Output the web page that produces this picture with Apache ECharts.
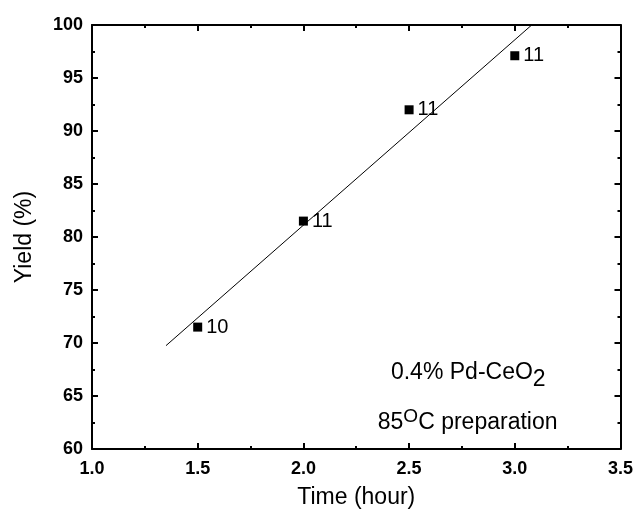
<!DOCTYPE html>
<html><head><meta charset="utf-8">
<script src="https://cdn.jsdelivr.net/npm/echarts@6/dist/echarts.min.js"></script>
<style>html,body{margin:0;padding:0;background:#fff}#c{width:636px;height:514px}</style>
</head><body><div id="c"></div>
<script>
var times = [1.5, 2.0, 2.5, 3.0];
var yields = [71.5, 81.5, 92.0, 97.1];
var pointLabels = ['10', '11', '11', '11'];
var fitX = [1.35, 3.08];
var fitY = [69.75, 100];
var xTitle = 'Time (hour)';
var yTitle = 'Yield (%)';
var FONT = '"Liberation Sans", Arial, sans-serif';

var pts = times.map(function (t, i) { return [t, yields[i], pointLabels[i]]; });
var fit = fitX.map(function (x, i) { return [x, fitY[i]]; });

var axisBase = {
  type: 'value', scale: false,
  axisLine: { show: true, onZero: false, lineStyle: { color: '#000', width: 2 } },
  axisTick: { show: true, inside: true, length: 6, lineStyle: { color: '#000', width: 2 } },
  minorTick: { show: true, splitNumber: 2, length: 3, lineStyle: { color: '#000', width: 2 } },
  splitLine: { show: false }
};
function ax(extra) { return Object.assign({}, JSON.parse(JSON.stringify(axisBase)), extra); }

var chart = echarts.init(document.getElementById('c'));
chart.setOption({
  animation: false,
  grid: { left: 92, top: 25, right: 15, bottom: 63 },
  xAxis: [
    ax({ min: 1, max: 3.5, interval: 0.5, position: 'bottom',
      name: xTitle, nameLocation: 'middle', nameGap: 37,
      nameTextStyle: { fontFamily: FONT, fontSize: 23, color: '#000' },
      axisLabel: { fontFamily: FONT, fontSize: 18, fontWeight: 'bold', color: '#000', margin: 11,
        formatter: function (v) { return v.toFixed(1); } } }),
    ax({ min: 1, max: 3.5, interval: 0.5, position: 'top', axisLabel: { show: false } })
  ],
  yAxis: [
    ax({ min: 60, max: 100, interval: 5, position: 'left',
      name: yTitle, nameLocation: 'middle', nameGap: 56, nameRotate: 90,
      nameTextStyle: { fontFamily: FONT, fontSize: 23, color: '#000' },
      axisLabel: { fontFamily: FONT, fontSize: 18, fontWeight: 'bold', color: '#000', margin: 9 } }),
    ax({ min: 60, max: 100, interval: 5, position: 'right', axisLabel: { show: false } })
  ],
  series: [
    { type: 'line', data: fit, xAxisIndex: 0, yAxisIndex: 0, symbol: 'none',
      lineStyle: { color: '#000', width: 1 }, silent: true },
    { type: 'scatter', data: pts, xAxisIndex: 0, yAxisIndex: 0, symbol: 'rect', symbolSize: 9,
      itemStyle: { color: '#000', opacity: 1 },
      label: { show: true, position: 'right', distance: 4, fontFamily: FONT, fontSize: 20, color: '#000',
        formatter: function (p) { return p.data[2]; } } }
  ]
});

var a1 = chart.convertToPixel({ xAxisIndex: 0, yAxisIndex: 0 }, [2.78, 67.2]);
var a2 = chart.convertToPixel({ xAxisIndex: 0, yAxisIndex: 0 }, [2.777, 62.5]);
chart.setOption({
  graphic: [
    { type: 'text', x: a1[0], y: a1[1], style: {
      text: '0.4% Pd-CeO{sub|2}', fill: '#000', font: '23px ' + FONT,
      align: 'center', verticalAlign: 'middle',
      rich: { sub: { fontSize: 23, fontFamily: FONT, padding: [14, 0, 0, 0], fill: '#000' } } } },
    { type: 'text', x: a2[0], y: a2[1], style: {
      text: '85{sup|O}C preparation', fill: '#000', font: '23px ' + FONT,
      align: 'center', verticalAlign: 'middle',
      rich: { sup: { fontSize: 19, fontFamily: FONT, padding: [0, 0, 12, 0], fill: '#000' } } } }
  ]
});
</script></body></html>
